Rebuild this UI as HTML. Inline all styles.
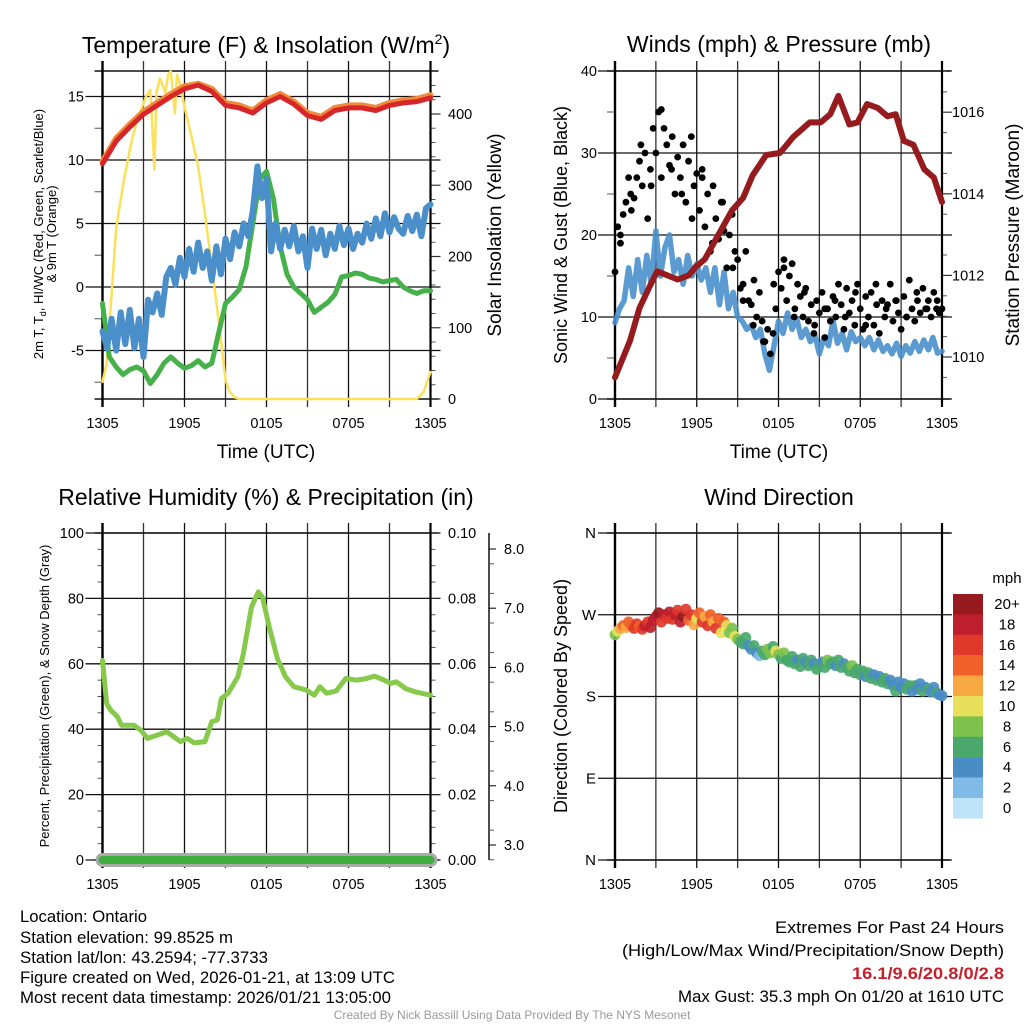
<!DOCTYPE html>
<html><head><meta charset="utf-8"><title>Mesonet Station Meteogram</title>
<style>
html,body{margin:0;padding:0;background:#fff;}
svg{display:block;font-family:"Liberation Sans",Arial,sans-serif;}
</style></head>
<body>
<svg id="fig" width="1024" height="1024" viewBox="0 0 1024 1024" xmlns="http://www.w3.org/2000/svg">
<rect x="0" y="0" width="1024" height="1024" fill="#fff"/>
<text x="266" y="53" font-size="23" text-anchor="middle">Temperature (F) &amp; Insolation (W/m<tspan font-size="14" dy="-9">2</tspan><tspan dy="9">)</tspan></text>
<text x="779" y="52" font-size="23" text-anchor="middle">Winds (mph) &amp; Pressure (mb)</text>
<text x="266" y="505" font-size="23" text-anchor="middle">Relative Humidity (%) &amp; Precipitation (in)</text>
<text x="779" y="505" font-size="23" text-anchor="middle">Wind Direction</text>
<text x="266" y="458" font-size="19" text-anchor="middle">Time (UTC)</text>
<text x="779" y="458" font-size="19" text-anchor="middle">Time (UTC)</text>
<text transform="translate(43,234) rotate(-90)" font-size="13" text-anchor="middle">2m T, T<tspan font-size="9" dy="3">d</tspan><tspan dy="-3">, HI/WC (Red, Green, Scarlet/Blue)</tspan></text>
<text transform="translate(56,234) rotate(-90)" font-size="13" text-anchor="middle">&amp; 9m T (Orange)</text>
<text transform="translate(501,235) rotate(-90)" font-size="19" text-anchor="middle">Solar Insolation (Yellow)</text>
<text transform="translate(567,235) rotate(-90)" font-size="18" text-anchor="middle">Sonic Wind &amp; Gust (Blue, Black)</text>
<text transform="translate(1019,235) rotate(-90)" font-size="19" text-anchor="middle">Station Pressure (Maroon)</text>
<text transform="translate(49,696) rotate(-90)" font-size="13" text-anchor="middle">Percent, Precipitation (Green), &amp; Snow Depth (Gray)</text>
<text transform="translate(567,696) rotate(-90)" font-size="18" text-anchor="middle">Direction (Colored By Speed)</text>
<g font-size="16.5">
<text x="20" y="922" textLength="127" lengthAdjust="spacingAndGlyphs">Location: Ontario</text>
<text x="20" y="943" textLength="213" lengthAdjust="spacingAndGlyphs">Station elevation: 99.8525 m</text>
<text x="20" y="963" textLength="248" lengthAdjust="spacingAndGlyphs">Station lat/lon: 43.2594; -77.3733</text>
<text x="20" y="983" textLength="375" lengthAdjust="spacingAndGlyphs">Figure created on Wed, 2026-01-21, at 13:09 UTC</text>
<text x="20" y="1003" textLength="371" lengthAdjust="spacingAndGlyphs">Most recent data timestamp: 2026/01/21 13:05:00</text>
</g>
<g font-size="16.5">
<text x="775" y="933" textLength="229" lengthAdjust="spacingAndGlyphs">Extremes For Past 24 Hours</text>
<text x="622" y="956" textLength="382" lengthAdjust="spacingAndGlyphs">(High/Low/Max Wind/Precipitation/Snow Depth)</text>
<text x="852" y="979" textLength="152" lengthAdjust="spacingAndGlyphs" fill="#c8202a" font-weight="bold">16.1/9.6/20.8/0/2.8</text>
<text x="678" y="1002" textLength="326" lengthAdjust="spacingAndGlyphs">Max Gust: 35.3 mph On 01/20 at 1610 UTC</text>
</g>
<text x="512" y="1019" font-size="12" fill="#999" text-anchor="middle">Created By Nick Bassill Using Data Provided By The NYS Mesonet</text>
<g id="plots"></g>
</svg>
<script>
// ---------- data ----------
const xTickLabels = ["1305","1905","0105","0705","1305"];
const tempHours = [0,1,2,3,4,5,6,7,8,9,10,11,12,13,14,15,16,17,18,19,20,21,22,23,24];
const airTemp = [9.7,11.5,12.6,13.6,14.3,15.0,15.6,15.9,15.4,14.3,14.1,13.7,14.5,15.0,14.4,13.5,13.2,13.9,14.1,14.1,13.9,14.3,14.5,14.6,14.9];
const temp9m = [9.9,11.7,12.8,13.8,14.5,15.2,15.8,16.0,15.6,14.5,14.3,13.9,14.7,15.2,14.6,13.7,13.4,14.1,14.3,14.3,14.1,14.5,14.7,14.8,15.1];
const dewHours = [0,0.5,1,1.5,2,2.5,3,3.5,4,4.5,5,5.5,6,6.5,7,7.5,8,8.5,9,9.5,10,10.5,11,11.5,12,12.5,13,13.5,14,14.5,15,15.5,16,16.5,17,17.5,18,18.5,19,19.5,20,20.5,21,21.5,22,22.5,23,23.5,24];
const dewPoint = [-1.3,-5.5,-6.3,-6.9,-6.5,-6.3,-6.6,-7.6,-6.9,-6.0,-5.5,-6.0,-6.4,-6.2,-5.8,-6.3,-6.0,-3.6,-1.3,-0.8,-0.2,1.6,5.0,8.5,9.1,7.0,3.2,1.0,0.0,-0.5,-1.0,-2.0,-1.6,-1.2,-0.6,0.8,0.9,1.1,1.0,0.7,0.6,0.4,0.5,0.6,0.0,-0.3,-0.5,-0.3,-0.3];
const windChill = [-3.5,-4.8,-2.5,-5.0,-2.0,-4.5,-1.8,-4.8,-2.5,-5.5,-1.0,-2.0,-0.5,-2.2,0.8,1.5,0.2,2.3,0.8,3.0,1.2,3.5,1.5,2.8,0.5,3.2,1.0,3.8,2.2,4.3,3.2,5.0,4.0,6.0,9.5,7.0,8.5,2.8,5.0,3.0,4.5,3.2,4.8,2.8,4.0,1.5,4.6,3.0,4.5,2.5,4.2,3.0,4.8,3.3,4.6,3.0,4.2,3.5,5.0,3.8,5.4,4.0,5.8,4.3,5.5,4.6,4.2,5.6,4.4,5.7,4.0,6.2,6.5];
const insolHours = [0,0.3,0.55,1,1.5,2,2.5,2.9,3.2,3.5,3.65,3.8,3.95,4.2,4.4,4.6,4.8,5,5.15,5.3,5.45,5.6,5.8,6,6.5,7,7.5,8,8.5,9,9.3,9.7,10,23,23.5,24];
const insolation = [24,50,115,240,300,350,390,410,425,434,380,322,430,450,440,430,455,460,430,401,455,448,430,410,370,326,260,185,110,27,10,2,0,0,10,38];
const sonicWind = [9.3,11.0,12.0,16.0,12.5,17.0,13.0,17.5,14.0,20.5,15.0,18.5,20.0,15.5,17.0,14.0,17.5,15.0,16.5,14.5,16.0,13.0,16.0,11.5,15.5,11.0,13.0,10.0,9.5,8.5,9.0,7.5,8.5,5.5,3.5,6.5,9.5,8.0,10.5,8.5,9.8,7.5,8.5,7.0,7.8,5.5,7.5,6.5,9.5,6.8,8.0,6.0,8.2,7.0,7.5,6.5,7.5,6.0,7.2,5.8,6.5,5.5,6.8,5.2,6.5,5.6,7.0,5.8,7.2,6.0,7.5,5.6,5.8];
const gusts = [15.5,21,19,22.5,24, 27,23,24.5,27,29, 26,30,22,28,33, 30,35,27,33,31, 28.5,32,25,29.5,27, 31,24,29,32,26, 27.5,23,28,21,25, 18,26,22,19.5,24, 20.5,16,20,22.5,18, 17,13.5,14,18,12, 11.5,14.5,10,13,9.5, 7,8.5,5.5,8,11, 15.5,13.5,17,12,15, 16.5,11,14,12.5,10, 13.5,9.5,11.5,8,12, 10.5,13,7.5,11,9.5, 12.5,10,14,11.5,8.5, 13.5,10.5,12,9,14, 11,8.5,12.5,10,13, 9,11.5,8,12,10, 11.5,14,9.5,12,10.5, 8.5,12.5,10,14.5,11, 9.5,12,10.5,13.5,11, 12,10,13,11,10.5, 11];
const gusts2 = [20,25,31,26, 35.3,28,25,22, 27,19,24,16, 12,9,7,14, 16,10,13,9, 11,12,10,13, 9,14,11,12, 10,13,11,12];
const pressHours = [0,1.1,1.8,2.5,3.1,4.6,5.4,5.9,6.6,7.6,8.6,9.4,10.1,11.1,12.1,13.1,14.3,15.1,15.8,16.4,17.2,17.8,18.5,19.3,20,20.6,21.2,21.9,22.7,23.4,24];
const pressure = [1009.5,1010.4,1011.2,1011.7,1012.1,1011.9,1012.0,1012.2,1012.4,1013.0,1013.6,1013.9,1014.45,1014.95,1015.0,1015.4,1015.75,1015.75,1015.95,1016.4,1015.7,1015.75,1016.2,1016.1,1015.9,1015.95,1015.3,1015.2,1014.6,1014.4,1013.8];
const rhHours = [0,0.3,0.6,1.1,1.4,2.3,2.8,3.3,4.0,4.7,5.2,5.7,6.2,6.7,7.5,8.0,8.4,8.7,9.2,9.9,10.3,10.9,11.4,11.7,12.2,12.8,13.4,14,14.9,15.5,15.9,16.4,17.1,17.8,18.6,19.3,19.9,20.5,21.1,21.5,22.2,22.9,24];
const relHumidity = [61,47.9,45.8,43.8,41.2,41.2,39.7,37.2,38.2,39.2,37.7,36.2,37.2,35.8,36.2,42.3,42.8,49.4,51,56,63,77.4,82,80.4,71.3,61.6,56,53,52,50.4,53,51,51.7,55.5,55,55.5,56.2,55.2,54,54.5,52.4,51.4,50.4];
const precipTotal = [0,0,0,0,0];
const windDir = [248,252,255,258,256, 262,258,255,260,257, 254,258,262,256,264, 268,272,262,270,266, 273,265,270,275,262, 268,276,264,270,259, 266,272,262,268,258, 270,262,255,266,250, 262,258,250,255,246, 243,240,238,245,236, 232,236,228,225,230, 226,232,228,235,230, 226,222,228,220,218, 224,216,220,213,222, 218,214,220,216,210, 215,218,212,220,216, 218,214,220,212,216, 212,208,214,206,210, 204,208,202,206,200, 204,198,202,196,200, 194,198,192,186,196, 190,194,188,192,186, 192,188,194,186,190, 188,185,190,184,182, 181];
const windSpd = [9,11,13,14,13, 15,14,16,17,15, 16,18,17,19,18, 18,20,17,19,16, 18,17,19,16,18, 20,17,15,17,13, 11,14,16,13,17, 15,12,17,14,10, 15,10,9,8,10, 8,7,6,7,4, 5,7,4,3,6, 7,8,9,6,10, 8,7,9,6,7, 6,7,5,7,6, 4,6,7,5,6, 7,5,6,8,6, 7,4,6,7,5, 6,7,8,6,7, 6,7,5,6,6, 5,6,5,6,7, 6,5,4,6,5, 4,5,6,7,5, 6,4,5,6,5, 6,5,4,6,5, 4];
const speedLabels = ["20+","18","16","14","12","10","8","6","4","2","0"];
const speedColors = ["#971a1e","#be1e2d","#e0382b","#f06129","#f7a843","#e8e05b","#7cc24c","#4ba86d","#4a8cc6","#7fbbe6","#bfe4f9"];
const tempTicks = [15,10,5,0,-5];
const insolTicks = [0,100,200,300,400];
const windTicks = [0,10,20,30,40];
const pressTicks = [1010,1012,1014,1016];
const rhTicks = [0,20,40,60,80,100];
const precipTicks = ["0.00","0.02","0.04","0.06","0.08","0.10"];
const snowTicks = ["3.0","4.0","5.0","6.0","7.0","8.0"];
const dirTicks = ["N","E","S","W","N"];

// ---------- helpers ----------
const NS="http://www.w3.org/2000/svg";
const root=document.getElementById('plots');
function mk(tag,attrs,parent){const e=document.createElementNS(NS,tag);for(const k in attrs)e.setAttribute(k,attrs[k]);(parent||root).appendChild(e);return e;}
function pathFrom(xs,ys){let d='';for(let i=0;i<xs.length;i++)d+=(i?'L':'M')+xs[i].toFixed(1)+','+ys[i].toFixed(1);return d;}
function panel(x0,x1,y0,y1){return{x0,x1,y0,y1,xs:t=>x0+t/24*(x1-x0)};}
function frame(p,name){
  const g=mk('g',{});
  
  
  for(let i=0;i<=8;i++){
    const x=p.xs(i*3);
    const l=mk('line',{x1:x,y1:p.y0-10,x2:x,y2:p.y1+8,stroke:(i%2?'#333':'#111'),'stroke-width':1.3},g);
    
    
  }
  for(let i=0;i<5;i++){
    const lab=mk('text',{x:p.xs(i*6),y:p.y1+29,'font-size':14.5,'text-anchor':'middle'},g);
    lab.textContent=xTickLabels[i];
    
    
  }
  mk('line',{x1:p.x0-8,y1:p.y0,x2:p.x1+8,y2:p.y0,stroke:'#111','stroke-width':1.6},g);
  mk('line',{x1:p.x0-8,y1:p.y1,x2:p.x1+8,y2:p.y1,stroke:'#111','stroke-width':1.6},g);
  return g;
}
function box(p,g){
  mk('line',{x1:p.x0,y1:p.y0-10,x2:p.x0,y2:p.y1+8,stroke:'#000','stroke-width':2.4},g);
  mk('line',{x1:p.x1,y1:p.y0-10,x2:p.x1,y2:p.y1+8,stroke:'#000','stroke-width':2.2},g);
}
function hline(p,y,g,name){
  const l=mk('line',{x1:p.x0-17,y1:y,x2:p.x1+10,y2:y,stroke:'#111','stroke-width':1.3},g);
  
  
}
function label(x,y,txt,anchor,g,name,size){
  const t=mk('text',{x:x,y:y+5,'font-size':size||14.5,'text-anchor':anchor},g);
  t.textContent=txt;
  
  
}
function minor(x,y,len,g){mk('line',{x1:x,y1:y,x2:x+len,y2:y,stroke:'#555','stroke-width':1},g);}
function series(xs,ys,color,w,name,op){
  const e=mk('path',{d:pathFrom(xs,ys),fill:'none',stroke:color,'stroke-width':w,'stroke-linejoin':'round','stroke-linecap':'round',opacity:op||1});
  
  
  return e;
}

// ---------- Panel 1: Temperature ----------
(function(){
  const p=panel(102.5,430.5,71,399);
  const ty=v=>287-v*12.7, iy=v=>399-v*0.7125;
  const g=frame(p,'temperature');
  tempTicks.forEach(v=>{hline(p,ty(v),g,'temp-gridline');label(84,ty(v),String(v),'end',g,'temp-tick-label');});
  [12.5,7.5,2.5,-2.5,-7.5].forEach(v=>minor(p.x0-8,ty(v),8,g));
  insolTicks.forEach(v=>{mk('line',{x1:p.x1,y1:iy(v),x2:p.x1+10,y2:iy(v),stroke:'#333','stroke-width':1.2},g);label(448,iy(v),String(v),'start',g,'insolation-tick-label');});
  for(let v=20;v<460;v+=20){if(v%100)minor(p.x1,iy(v),5,g);}
  box(p,g);
  series(insolHours.map(p.xs),insolation.map(iy),'#fbe05a',2.5,'insolation-line');
  series(dewHours.map(p.xs),dewPoint.map(ty),'#46b04a',5,'dewpoint-line');
  series(windChill.map((v,i)=>p.xs(i/3)),windChill.map(ty),'#4a8fc9',6,'wind-chill-line');
  series(tempHours.map(p.xs),temp9m.map(ty),'#f08a3a',6,'temp-9m-line');
  series(tempHours.map(p.xs),airTemp.map(ty),'#d8252a',5,'air-temp-line');
})();

// ---------- Panel 2: Wind & Pressure ----------
(function(){
  const p=panel(615,942,71,399);
  const wy=v=>399-v*8.2, py=v=>357-(v-1010)*40.8;
  const g=frame(p,'wind');
  windTicks.forEach(v=>{hline(p,wy(v),g,'wind-gridline');label(597,wy(v),String(v),'end',g,'wind-tick-label');});
  [5,15,25,35].forEach(v=>minor(p.x0-8,wy(v),8,g));
  pressTicks.forEach(v=>{mk('line',{x1:p.x1,y1:py(v),x2:p.x1+10,y2:py(v),stroke:'#333','stroke-width':1.2},g);label(952,py(v),String(v),'start',g,'pressure-tick-label');});
  for(let v=1009.5;v<1017.1;v+=0.5){if(v%2&&py(v)>=p.y0)minor(p.x1,py(v),5,g);}
  box(p,g);
  series(sonicWind.map((v,i)=>p.xs(i/3)),sonicWind.map(wy),'#4a90cc',5.5,'sonic-wind-line',0.9);
  const dg=mk('g',{});
  
  
  gusts.forEach((v,i)=>{
    const c=mk('circle',{cx:p.xs(i/5),cy:wy(v),r:3.4,fill:'#000'},dg);
    
    
  });
  gusts2.forEach((v,i)=>{
    const c=mk('circle',{cx:p.xs(0.4+i*0.75),cy:wy(v),r:3.4,fill:'#000'},dg);
    
    
  });
  series(pressHours.map(p.xs),pressure.map(py),'#961b1e',6,'pressure-line');
})();

// ---------- Panel 3: RH & Precip ----------
(function(){
  const p=panel(102.5,430.5,533,860);
  const ry=v=>860-v*3.27;
  const g=frame(p,'humidity');
  rhTicks.forEach((v,i)=>{hline(p,ry(v),g,'rh-gridline');label(84,ry(v),String(v),'end',g,'rh-tick-label');label(448,ry(v),precipTicks[i],'start',g,'precip-tick-label');mk('line',{x1:p.x1,y1:ry(v),x2:p.x1+8,y2:ry(v),stroke:'#333'},g);});
  for(let v=5;v<100;v+=5){if(v%20){minor(p.x0-5,ry(v),5,g);minor(p.x1,ry(v),5,g);}}
  mk('line',{x1:489,y1:533,x2:489,y2:860,stroke:'#000','stroke-width':1.4},g);
  snowTicks.forEach((v,i)=>{const y=845-i*59.2;mk('line',{x1:489,y1:y,x2:496,y2:y,stroke:'#000'},g);label(504,y,v,'start',g,'snow-tick-label');});
  for(let i=0;i<11;i++){minor(489,845-i*29.6+14.8,5,g);}
  box(p,g);
  series(rhHours.map(p.xs),relHumidity.map(ry),'#86c94b',5,'rh-line');
  series(precipTotal.map((v,i)=>p.xs(i*6)),precipTotal.map(v=>860-v*3270),'#aaa',14,'snow-depth-line');
  series(precipTotal.map((v,i)=>p.xs(i*6)),precipTotal.map(v=>860-v*3270),'#3fae3f',8,'precip-line');
})();

// ---------- Panel 4: Wind direction ----------
(function(){
  const p=panel(615,942,533,860);
  const dy=v=>860-v*(327/360);
  const g=frame(p,'direction');
  dirTicks.forEach((v,i)=>{const y=dy(i===4?360:[0,90,180,270][i]);hline(p,y,g,'direction-gridline');label(596,y,v,'end',g,'direction-tick-label',15);});
  box(p,g);
  const dg=mk('g',{});
  
  
  windDir.forEach((v,i)=>{
    const s=windSpd[i];
    let bin=10-Math.min(10,Math.floor(s/2));
    const c=mk('circle',{cx:p.xs(i/5),cy:dy(v),r:5.5,fill:speedColors[bin],opacity:0.92},dg);
    
    
  });
  const cb=mk('g',{});
  
  
  label(1007,578,'mph','middle',cb,'colorbar-unit',15);
  speedColors.forEach((c,i)=>{
    const r=mk('rect',{x:953,y:594+i*20.4,width:30,height:20.6,fill:c},cb);
    
    
    label(1007,604+i*20.4,speedLabels[i],'middle',cb,'colorbar-label',15);
  });
})();
</script>
</body></html>
